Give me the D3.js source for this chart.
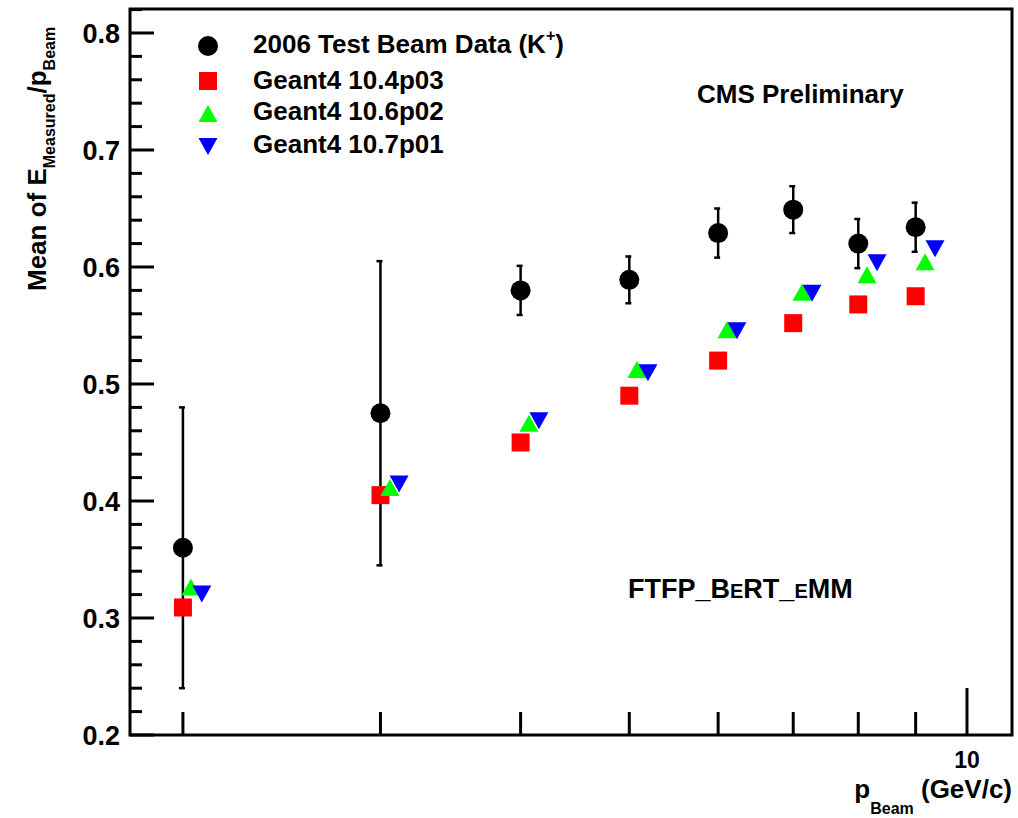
<!DOCTYPE html>
<html>
<head>
<meta charset="utf-8">
<script src="https://cdn.jsdelivr.net/npm/d3@7"></script>
<style>
  html, body { margin: 0; padding: 0; background: #fff; }
  svg { display: block; font-family: "Liberation Sans", Arial, Helvetica, sans-serif; font-weight: bold; }
</style>
</head>
<body>
<svg id="chart" width="1018" height="818"></svg>
<script>
// ---- data ----
const beamMomenta = [2, 3, 4, 5, 6, 7, 8, 9];            // GeV/c
const dataMean    = [0.360, 0.475, 0.580, 0.589, 0.629, 0.649, 0.620, 0.634];
const dataErr     = [0.120, 0.130, 0.021, 0.020, 0.021, 0.020, 0.021, 0.021];

const g4_104_x = [2, 3, 4, 5, 6, 7, 8, 9];
const g4_104_y = [0.309, 0.405, 0.450, 0.490, 0.520, 0.552, 0.568, 0.575];

const g4_106_x = [2.033, 3.059, 4.069, 5.079, 6.110, 7.127, 8.145, 9.175];
const g4_106_y = [0.326, 0.411, 0.466, 0.512, 0.546, 0.578, 0.593, 0.604];

const g4_107_x = [2.079, 3.117, 4.153, 5.195, 6.236, 7.275, 8.314, 9.365];
const g4_107_y = [0.321, 0.415, 0.469, 0.510, 0.546, 0.578, 0.604, 0.616];

const yMajorTicks = [0.2, 0.3, 0.4, 0.5, 0.6, 0.7, 0.8];
const yTickLabels = ["0.2", "0.3", "0.4", "0.5", "0.6", "0.7", "0.8"];
const xMinorTicks = [2, 3, 4, 5, 6, 7, 8, 9];
const xMajorTicks = [10];
const xTickLabels = ["10"];

const legendLabels = ["2006 Test Beam Data (K", "Geant4 10.4p03", "Geant4 10.6p02", "Geant4 10.7p01"];

// ---- layout ----
const svg = d3.select("#chart");
const frame = { left: 130, right: 1012, top: 9, bottom: 735 };
const x = d3.scaleLog().domain([1.7941, 10.968]).range([frame.left, frame.right]);
const y = d3.scaleLinear().domain([0.2, 0.8205]).range([frame.bottom, frame.top]);

const FONT = 26;

// frame
svg.append("rect")
  .attr("x", frame.left).attr("y", frame.top)
  .attr("width", frame.right - frame.left).attr("height", frame.bottom - frame.top)
  .attr("fill", "none").attr("stroke", "#000").attr("stroke-width", 3);

// y axis ticks (inward)
const yMinor = d3.range(0.2, 0.8201, 0.02).filter(v => Math.abs(Math.round(v * 10) - v * 10) > 1e-6);
const yAx = svg.append("g").attr("class", "y-axis");
yAx.selectAll("line.maj").data(yMajorTicks).join("line")
  .attr("x1", frame.left).attr("x2", frame.left + 24)
  .attr("y1", d => y(d)).attr("y2", d => y(d))
  .attr("stroke", "#000").attr("stroke-width", 3);
yAx.selectAll("line.min").data(yMinor).join("line")
  .attr("x1", frame.left).attr("x2", frame.left + 12)
  .attr("y1", d => y(d)).attr("y2", d => y(d))
  .attr("stroke", "#000").attr("stroke-width", 3);
yAx.selectAll("text").data(yMajorTicks).join("text")
  .attr("x", 120).attr("y", d => y(d))
  .attr("dy", "0.36em")
  .attr("text-anchor", "end")
  .attr("font-size", 27)
  .text((d, i) => yTickLabels[i]);

// x axis ticks (inward, log)
const xAx = svg.append("g").attr("class", "x-axis");
xAx.selectAll("line.min").data(xMinorTicks).join("line")
  .attr("x1", d => x(d)).attr("x2", d => x(d))
  .attr("y1", frame.bottom).attr("y2", frame.bottom - 23)
  .attr("stroke", "#000").attr("stroke-width", 3);
xAx.selectAll("line.maj").data(xMajorTicks).join("line")
  .attr("x1", d => x(d)).attr("x2", d => x(d))
  .attr("y1", frame.bottom).attr("y2", frame.bottom - 47)
  .attr("stroke", "#000").attr("stroke-width", 3);
xAx.selectAll("text").data(xMajorTicks).join("text")
  .attr("x", d => x(d)).attr("y", 768)
  .attr("text-anchor", "middle")
  .attr("font-size", 23)
  .text((d, i) => xTickLabels[i]);

// x title
const xt = svg.append("text").attr("x", 1012).attr("y", 798)
  .attr("text-anchor", "end").attr("font-size", FONT);
xt.append("tspan").text("p");
xt.append("tspan").attr("font-size", 16).attr("dy", 16).text("Beam");
xt.append("tspan").attr("dy", -16).text(" (GeV/c)");

// y title
const yt = svg.append("text")
  .attr("transform", "translate(46,291) rotate(-90)")
  .attr("font-size", 26);
yt.append("tspan").text("Mean of E");
yt.append("tspan").attr("font-size", 16).attr("dy", 9).text("Measured");
yt.append("tspan").attr("dy", -9).text("/p");
yt.append("tspan").attr("font-size", 16).attr("dy", 9).text("Beam");

// ---- marker shapes ----
const downTri = "M-9.5,-8L9.5,-8L0,9Z";
const upTri = "M-9.5,8L9.5,8L0,-9Z";

// data error bars
const dataPts = beamMomenta.map((v, i) => ({ x: v, y: dataMean[i], e: dataErr[i] }));
const eb = svg.append("g").attr("stroke", "#000").attr("stroke-width", 2.5);
eb.selectAll("line.bar").data(dataPts).join("line")
  .attr("x1", d => x(d.x)).attr("x2", d => x(d.x))
  .attr("y1", d => y(d.y + d.e)).attr("y2", d => y(d.y - d.e));
eb.selectAll("line.capt").data(dataPts).join("line").attr("class", "capt")
  .attr("x1", d => x(d.x) - 4).attr("x2", d => x(d.x) + 2)
  .attr("y1", d => y(d.y + d.e)).attr("y2", d => y(d.y + d.e));
eb.selectAll("line.capb").data(dataPts).join("line").attr("class", "capb")
  .attr("x1", d => x(d.x) - 4).attr("x2", d => x(d.x) + 2)
  .attr("y1", d => y(d.y - d.e)).attr("y2", d => y(d.y - d.e));

svg.append("g").selectAll("circle").data(dataPts).join("circle")
  .attr("cx", d => x(d.x)).attr("cy", d => y(d.y)).attr("r", 10).attr("fill", "#000");

// simulations
svg.append("g").selectAll("rect").data(g4_104_x.map((v, i) => [v, g4_104_y[i]])).join("rect")
  .attr("x", d => x(d[0]) - 9).attr("y", d => y(d[1]) - 9)
  .attr("width", 18).attr("height", 18).attr("fill", "#ff0000");

svg.append("g").selectAll("path").data(g4_106_x.map((v, i) => [v, g4_106_y[i]])).join("path")
  .attr("transform", d => `translate(${x(d[0])},${y(d[1])})`)
  .attr("d", upTri).attr("fill", "#00ff00");

svg.append("g").selectAll("path").data(g4_107_x.map((v, i) => [v, g4_107_y[i]])).join("path")
  .attr("transform", d => `translate(${x(d[0])},${y(d[1])})`)
  .attr("d", downTri).attr("fill", "#0000ff");

// ---- legend ----
const legRows = [46, 81, 114, 146];
const lg = svg.append("g");
lg.append("circle").attr("cx", 208).attr("cy", legRows[0]).attr("r", 10).attr("fill", "#000");
lg.append("rect").attr("x", 199).attr("y", legRows[1] - 9).attr("width", 18).attr("height", 18).attr("fill", "#ff0000");
lg.append("path").attr("transform", `translate(208,${legRows[2]})`).attr("d", upTri).attr("fill", "#00ff00");
lg.append("path").attr("transform", `translate(208,${legRows[3]})`).attr("d", downTri).attr("fill", "#0000ff");

const legTextY = [53, 89, 120, 153];
legendLabels.forEach((lab, i) => {
  const t = lg.append("text").attr("x", 253).attr("y", legTextY[i]).attr("font-size", FONT);
  t.append("tspan").text(lab);
  if (i === 0) {
    t.append("tspan").attr("font-size", 16).attr("dy", -12).text("+");
    t.append("tspan").attr("dy", 12).text(")");
  }
});

// annotations
svg.append("text").attr("x", 697).attr("y", 103).attr("font-size", FONT).text("CMS Preliminary");
const ft = svg.append("text").attr("x", 628).attr("y", 598).attr("font-size", 27);
ft.append("tspan").text("FTFP_B");
ft.append("tspan").attr("font-size", 20).text("E");
ft.append("tspan").text("RT_");
ft.append("tspan").attr("font-size", 20).text("E");
ft.append("tspan").text("MM");
</script>
</body>
</html>
